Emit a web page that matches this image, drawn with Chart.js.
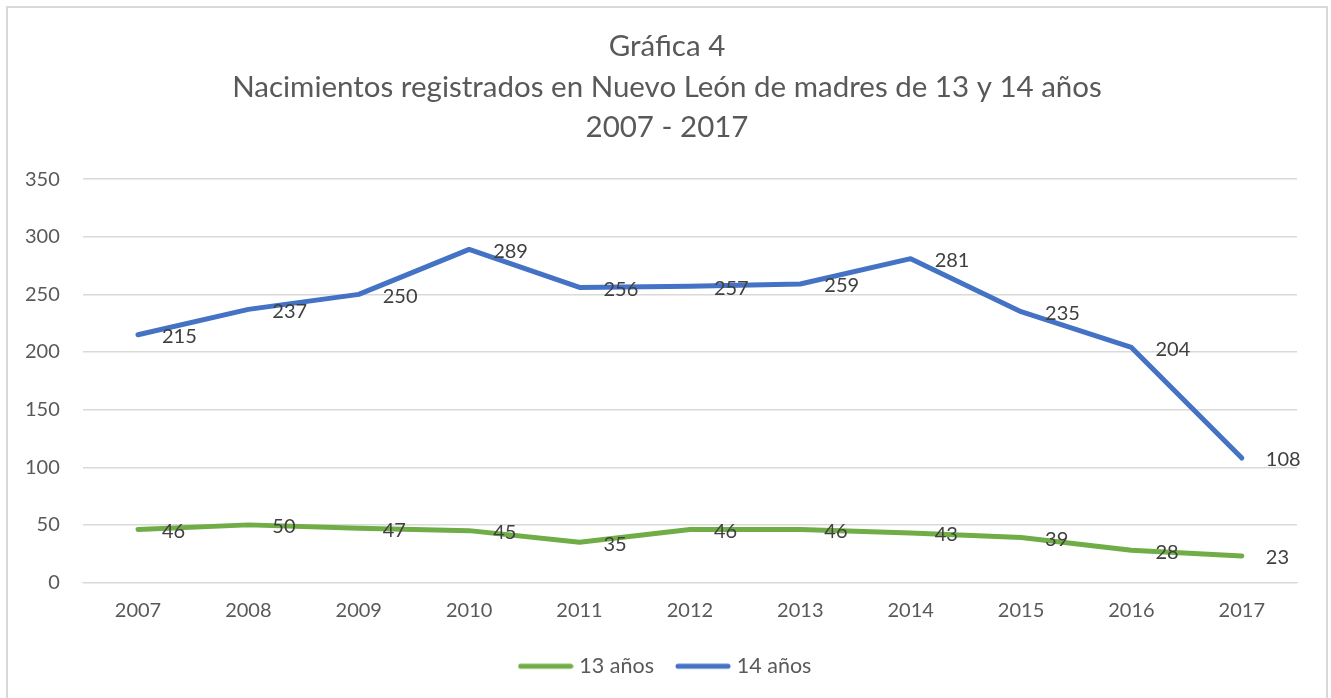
<!DOCTYPE html>
<html>
<head>
<meta charset="utf-8">
<script src="https://cdn.jsdelivr.net/npm/chart.js@4.4.1/dist/chart.umd.min.js"></script>
<style>
  html, body { margin: 0; padding: 0; background: #fff; }
  #frame {
    position: absolute; left: 6px; top: 6px;
    width: 1318px; height: 710px;
    border: 2px solid #d9d9d9; background: #fff;
  }
  #chart { display: block; }
</style>
</head>
<body>
<div id="frame"><canvas id="chart" width="1318" height="708"></canvas></div>
<script>
/* ----------------------------- */
/* DATA                          */
/* ----------------------------- */
const years = ["2007", "2008", "2009", "2010", "2011", "2012", "2013", "2014", "2015", "2016", "2017"];
const edad13 = [46, 50, 47, 45, 35, 46, 46, 43, 39, 28, 23];
const edad14 = [215, 237, 250, 289, 256, 257, 259, 281, 235, 204, 108];
const titleLines = [
  "Gráfica 4",
  "Nacimientos registrados en Nuevo León de madres de 13 y 14 años",
  "2007 - 2017",
];

const FONT = "Lato, 'Open Sans', sans-serif";

/* legend swatch: short thick line with round caps */
const swatch = (color) => {
  const c = document.createElement("canvas");
  c.width = 56;
  c.height = 8;
  const g = c.getContext("2d");
  g.strokeStyle = color;
  g.lineWidth = 5;
  g.lineCap = "round";
  g.beginPath();
  g.moveTo(3, 4);
  g.lineTo(53, 4);
  g.stroke();
  return c;
};

/* data labels to the right of each point, like the Excel original */
const valueLabels = {
  id: "valueLabels",
  afterDatasetsDraw(chart) {
    const ctx = chart.ctx;
    ctx.save();
    ctx.font = "20px " + FONT;
    ctx.fillStyle = "#404040";
    ctx.textAlign = "left";
    ctx.textBaseline = "middle";
    chart.data.datasets.forEach((ds, i) => {
      chart.getDatasetMeta(i).data.forEach((pt, j) => {
        ctx.fillText(String(ds.data[j]), pt.x + 24, pt.y + 2);
      });
    });
    ctx.restore();
  },
};

const lineSet = (label, data, color) => ({
  label,
  data,
  yAxisID: "y",
  borderColor: color,
  backgroundColor: color,
  borderWidth: 5,
  borderCapStyle: "round",
  borderJoinStyle: "round",
  pointRadius: 0,
  pointHoverRadius: 0,
  tension: 0,
  fill: false,
});

new Chart(document.getElementById("chart"), {
  type: "line",
  data: {
    labels: years,
    datasets: [
      lineSet("13 años", edad13, "#70ad47"),
      lineSet("14 años", edad14, "#4472c4"),
    ],
  },
  options: {
    responsive: false,
    animation: false,
    layout: { padding: { left: 0, right: 0, top: 18, bottom: 29 } },
    plugins: {
      title: {
        display: true,
        text: titleLines,
        color: "#595959",
        font: { family: FONT, size: 29.5, weight: "normal", lineHeight: 1.38 },
        padding: { top: 0, bottom: 31 },
      },
      legend: {
        position: "bottom",
        labels: {
          usePointStyle: true,
          pointStyleWidth: 46,
          color: "#595959",
          font: { family: FONT, size: 21.5 },
          padding: 26,
          generateLabels(chart) {
            const items = Chart.defaults.plugins.legend.labels.generateLabels(chart);
            return items.map((it, i) => ({
              ...it,
              pointStyle: swatch(chart.data.datasets[i].borderColor),
            }));
          },
        },
      },
      tooltip: { enabled: false },
    },
    scales: {
      x: {
        offset: true,
        grid: { display: false, drawTicks: false },
        border: { color: "#d9d9d9", width: 1 },
        ticks: { color: "#595959", font: { family: FONT, size: 20 }, padding: 16, maxRotation: 0 },
        afterFit(scale) { scale.height -= 9; },
      },
      y: {
        min: 0,
        max: 350,
        grid: { color: "#d9d9d9", lineWidth: 1.5, drawTicks: false },
        border: { display: false },
        ticks: { stepSize: 50, color: "#595959", font: { family: FONT, size: 20 }, padding: 23 },
        afterFit(scale) { scale.width -= 6; },
      },
      // empty right margin so the legend stays centred on the frame
      yRight: {
        type: "linear",
        position: "right",
        min: 0,
        max: 350,
        grid: { display: false, drawTicks: false },
        border: { display: false },
        ticks: { display: false },
        afterFit(scale) { scale.width = 29; },
      },
    },
  },
  plugins: [valueLabels],
});
</script>
</body>
</html>
